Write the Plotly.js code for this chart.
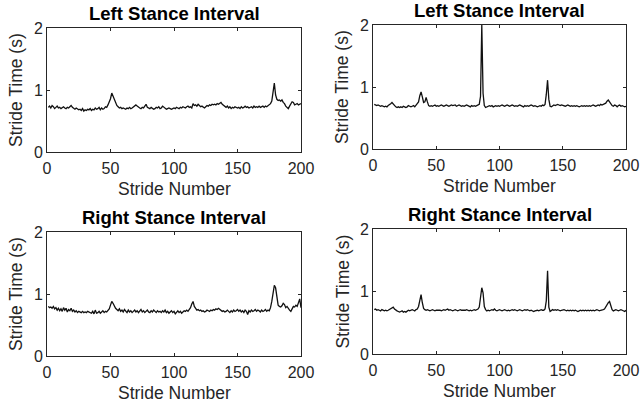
<!DOCTYPE html>
<html><head>
<script src="https://cdn.plot.ly/plotly-3.0.1.min.js"></script>
<style>body{margin:0;background:#fff}</style>
</head><body>
<div id="chart" style="width:641px;height:410px"></div>
<script>
// Stride time (s) for strides 1..200
const leftStanceA = [
0.72,0.74,0.71,0.75,0.73,0.70,0.72,0.74,0.71,0.72,
0.70,0.72,0.73,0.71,0.70,0.72,0.71,0.73,0.75,0.72,
0.70,0.69,0.71,0.70,0.68,0.69,0.67,0.70,0.66,0.68,
0.67,0.69,0.68,0.70,0.67,0.69,0.68,0.71,0.69,0.70,
0.72,0.68,0.71,0.69,0.70,0.73,0.72,0.76,0.80,0.86,
0.95,0.90,0.82,0.78,0.75,0.73,0.71,0.72,0.70,0.71,
0.70,0.69,0.71,0.70,0.72,0.70,0.71,0.73,0.75,0.76,
0.74,0.72,0.71,0.70,0.72,0.71,0.74,0.77,0.72,0.71,
0.70,0.72,0.71,0.69,0.70,0.72,0.71,0.73,0.70,0.71,
0.74,0.72,0.70,0.69,0.70,0.71,0.70,0.69,0.70,0.71,
0.70,0.72,0.71,0.70,0.72,0.71,0.73,0.72,0.71,0.73,
0.74,0.72,0.73,0.71,0.78,0.75,0.76,0.74,0.77,0.75,
0.73,0.74,0.72,0.71,0.73,0.75,0.74,0.76,0.75,0.77,
0.76,0.77,0.76,0.78,0.77,0.79,0.80,0.77,0.75,0.73,
0.72,0.74,0.71,0.73,0.70,0.72,0.71,0.73,0.72,0.71,
0.72,0.70,0.73,0.71,0.72,0.74,0.72,0.73,0.71,0.72,
0.73,0.71,0.74,0.72,0.73,0.72,0.74,0.72,0.73,0.74,
0.72,0.74,0.73,0.75,0.76,0.78,0.82,0.98,1.11,0.92,
0.85,0.83,0.84,0.82,0.84,0.80,0.78,0.74,0.72,0.70,
0.74,0.78,0.81,0.80,0.76,0.77,0.78,0.76,0.77,0.78];

const leftStanceB = [
0.72,0.71,0.70,0.71,0.70,0.69,0.70,0.69,0.68,0.69,
0.68,0.70,0.71,0.73,0.75,0.72,0.70,0.68,0.67,0.68,
0.67,0.68,0.67,0.69,0.68,0.67,0.68,0.70,0.69,0.68,
0.69,0.70,0.68,0.71,0.72,0.76,0.86,0.92,0.84,0.75,
0.76,0.83,0.76,0.70,0.69,0.70,0.69,0.70,0.71,0.69,
0.70,0.69,0.70,0.71,0.70,0.69,0.70,0.71,0.70,0.69,
0.70,0.71,0.70,0.70,0.71,0.69,0.70,0.71,0.70,0.69,
0.70,0.69,0.70,0.71,0.70,0.69,0.68,0.70,0.69,0.70,
0.69,0.70,0.71,0.72,0.85,2.00,0.90,0.70,0.67,0.68,
0.69,0.70,0.69,0.70,0.68,0.69,0.70,0.69,0.70,0.69,
0.70,0.71,0.70,0.69,0.70,0.71,0.70,0.69,0.70,0.71,
0.70,0.69,0.70,0.69,0.70,0.71,0.70,0.69,0.68,0.70,
0.69,0.70,0.69,0.70,0.71,0.70,0.69,0.70,0.69,0.68,
0.69,0.70,0.69,0.71,0.70,0.72,0.88,1.11,0.80,0.69,
0.68,0.70,0.71,0.70,0.71,0.72,0.71,0.70,0.71,0.70,
0.70,0.69,0.70,0.71,0.70,0.69,0.70,0.69,0.70,0.69,
0.70,0.69,0.68,0.69,0.70,0.69,0.70,0.69,0.70,0.69,
0.70,0.69,0.70,0.71,0.70,0.69,0.70,0.71,0.70,0.72,
0.71,0.72,0.73,0.74,0.77,0.79,0.76,0.72,0.70,0.69,
0.71,0.70,0.68,0.70,0.71,0.69,0.70,0.69,0.68,0.69];

const rightStanceA = [
0.80,0.78,0.79,0.77,0.80,0.76,0.78,0.74,0.77,0.73,
0.76,0.72,0.78,0.74,0.77,0.71,0.75,0.73,0.77,0.72,
0.74,0.71,0.73,0.70,0.72,0.71,0.70,0.72,0.70,0.71,
0.70,0.72,0.71,0.70,0.69,0.72,0.68,0.74,0.69,0.70,
0.72,0.69,0.71,0.73,0.70,0.72,0.71,0.73,0.76,0.82,
0.88,0.85,0.80,0.77,0.75,0.73,0.76,0.72,0.74,0.71,
0.75,0.72,0.70,0.74,0.71,0.73,0.70,0.72,0.74,0.71,
0.73,0.70,0.72,0.75,0.71,0.73,0.70,0.72,0.74,0.71,
0.70,0.73,0.71,0.74,0.72,0.70,0.73,0.71,0.72,0.70,
0.73,0.71,0.74,0.70,0.72,0.69,0.71,0.73,0.70,0.72,
0.68,0.71,0.73,0.70,0.72,0.69,0.71,0.73,0.72,0.74,
0.72,0.75,0.78,0.84,0.88,0.80,0.76,0.74,0.75,0.73,
0.74,0.72,0.73,0.71,0.72,0.74,0.73,0.72,0.74,0.73,
0.75,0.74,0.76,0.75,0.77,0.75,0.74,0.72,0.73,0.71,
0.72,0.74,0.72,0.70,0.73,0.71,0.74,0.72,0.73,0.75,
0.72,0.74,0.71,0.73,0.70,0.74,0.72,0.67,0.73,0.71,
0.74,0.72,0.73,0.75,0.72,0.74,0.73,0.71,0.74,0.72,
0.73,0.75,0.72,0.74,0.73,0.78,0.88,1.06,1.14,1.10,
0.95,0.82,0.80,0.79,0.81,0.85,0.83,0.78,0.80,0.76,
0.74,0.72,0.76,0.80,0.79,0.82,0.80,0.88,0.92,0.78];

const rightStanceB = [
0.71,0.72,0.70,0.71,0.70,0.69,0.71,0.70,0.69,0.70,
0.69,0.70,0.71,0.72,0.74,0.75,0.72,0.70,0.69,0.68,
0.67,0.68,0.69,0.67,0.68,0.67,0.69,0.70,0.69,0.70,
0.71,0.70,0.69,0.71,0.72,0.76,0.85,0.95,0.82,0.73,
0.71,0.70,0.71,0.70,0.69,0.70,0.71,0.70,0.69,0.70,
0.70,0.71,0.70,0.69,0.70,0.71,0.70,0.71,0.72,0.70,
0.71,0.70,0.69,0.70,0.71,0.70,0.69,0.70,0.71,0.70,
0.70,0.69,0.70,0.71,0.70,0.69,0.70,0.69,0.70,0.71,
0.70,0.71,0.72,0.75,0.90,1.06,0.98,0.76,0.71,0.69,
0.70,0.69,0.70,0.71,0.70,0.72,0.70,0.69,0.70,0.71,
0.70,0.69,0.70,0.71,0.70,0.69,0.70,0.69,0.70,0.71,
0.70,0.71,0.70,0.69,0.70,0.71,0.70,0.69,0.70,0.71,
0.70,0.71,0.70,0.69,0.70,0.69,0.68,0.69,0.70,0.70,
0.69,0.70,0.71,0.70,0.70,0.72,0.85,1.33,0.75,0.68,
0.70,0.71,0.70,0.71,0.70,0.71,0.70,0.69,0.70,0.71,
0.71,0.70,0.69,0.70,0.69,0.70,0.69,0.70,0.69,0.70,
0.69,0.68,0.69,0.70,0.69,0.70,0.69,0.70,0.69,0.70,
0.69,0.70,0.69,0.70,0.69,0.70,0.71,0.70,0.69,0.70,
0.70,0.71,0.72,0.76,0.79,0.82,0.84,0.76,0.71,0.69,
0.70,0.71,0.70,0.69,0.70,0.71,0.70,0.69,0.68,0.70];

const titles = ['Left Stance Interval','Left Stance Interval','Right Stance Interval','Right Stance Interval'];
const xTicks = [0,50,100,150,200];
const yTicks = [0,1,2];
const xLabel = 'Stride Number';
const yLabel = 'Stride Time (s)';

const strides = leftStanceA.map((_, i) => i + 1);
const series = [leftStanceA, leftStanceB, rightStanceA, rightStanceB];

const W = 641, H = 410;
// plot boxes in pixels: [left, right, top, bottom]
const boxes = [[47,301,28,152],[373,626,25,149],[47,301,232,356],[373,626,229,354]];
const FONT = 'Liberation Sans, Arial, Helvetica, sans-serif';
const AX = '#262626';

const data = series.map((s, i) => ({
  x: strides, y: s, type: 'scatter', mode: 'lines',
  xaxis: i === 0 ? 'x' : 'x' + (i + 1), yaxis: i === 0 ? 'y' : 'y' + (i + 1),
  line: {color: '#111', width: 1.3}, hoverinfo: 'skip'
}));

const layout = {
  width: W, height: H, margin: {l: 0, r: 0, t: 0, b: 0},
  paper_bgcolor: '#fff', plot_bgcolor: '#fff', showlegend: false,
  font: {family: FONT, color: AX},
  annotations: []
};

boxes.forEach((b, i) => {
  const sfx = i === 0 ? '' : String(i + 1);
  layout['xaxis' + sfx] = {
    domain: [b[0] / W, b[1] / W], anchor: 'y' + sfx, range: [0, 200],
    tickvals: xTicks, ticktext: xTicks.map(String),
    ticks: 'inside', ticklen: 3, tickwidth: 1, tickcolor: AX,
    showline: true, linecolor: AX, linewidth: 1, mirror: 'ticks',
    showgrid: false, zeroline: false, fixedrange: true, ticklabelstandoff: 2,
    tickfont: {family: FONT, size: 16, color: AX}
  };
  layout['yaxis' + sfx] = {
    domain: [1 - b[3] / H, 1 - b[2] / H], anchor: 'x' + sfx, range: [0, 2],
    tickvals: yTicks, ticktext: yTicks.map(String),
    ticks: 'inside', ticklen: 3, tickwidth: 1, tickcolor: AX,
    showline: true, linecolor: AX, linewidth: 1, mirror: 'ticks',
    showgrid: false, zeroline: false, fixedrange: true,
    tickfont: {family: FONT, size: 16, color: AX}
  };
  const cx = (b[0] + b[1]) / 2, cy = (b[2] + b[3]) / 2;
  layout.annotations.push({
    text: '<b>' + titles[i] + '</b>', xref: 'paper', yref: 'paper',
    x: cx / W, y: 1 - (b[2] - 15) / H, xanchor: 'center', yanchor: 'middle',
    showarrow: false, font: {family: FONT, size: 18.5, color: '#000'}
  });
  layout.annotations.push({
    text: xLabel, xref: 'paper', yref: 'paper',
    x: cx / W, y: 1 - (b[3] + 37) / H, xanchor: 'center', yanchor: 'middle',
    showarrow: false, font: {family: FONT, size: 17.5, color: AX}
  });
  layout.annotations.push({
    text: yLabel, xref: 'paper', yref: 'paper', textangle: -90,
    x: (b[0] - 31) / W, y: 1 - cy / H, xanchor: 'center', yanchor: 'middle',
    showarrow: false, font: {family: FONT, size: 17.5, color: AX}
  });
});

Plotly.newPlot('chart', data, layout, {displayModeBar: false, staticPlot: true});
</script>
</body></html>
